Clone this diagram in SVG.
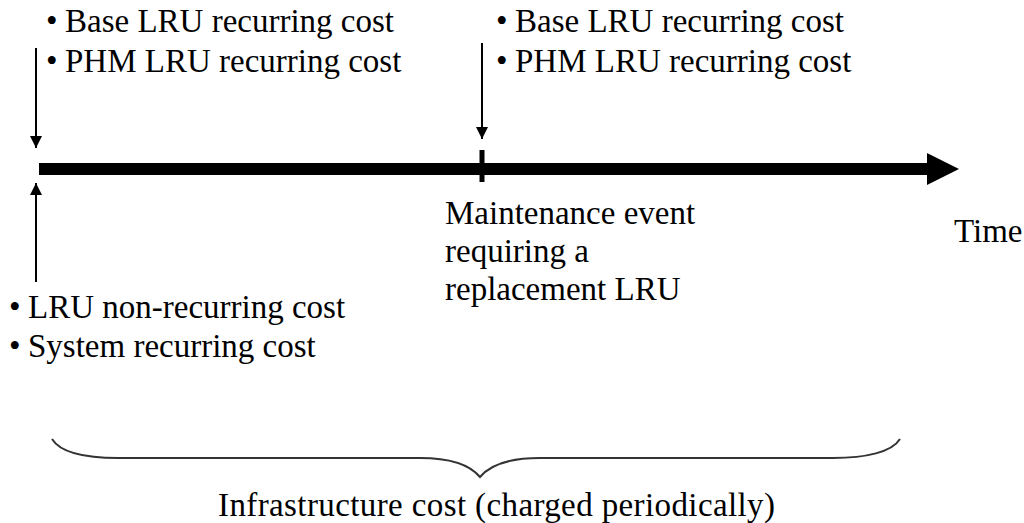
<svg xmlns="http://www.w3.org/2000/svg" width="1024" height="523" viewBox="0 0 1024 523">
<style>
text{font-family:"Liberation Serif","Times New Roman",serif;font-size:33px;fill:#000}
.arr{stroke:#000;stroke-width:2;fill:none}
</style>
<defs>
<marker id="ah" markerUnits="userSpaceOnUse" markerWidth="14" markerHeight="14" refX="12" refY="6" orient="auto">
<path d="M0,0 L12,6 L0,12 Z" fill="#000"/>
</marker>
</defs>
<rect width="1024" height="523" fill="#fff"/>
<g id="timeline">
<line x1="39" y1="169" x2="930" y2="169" stroke="#000" stroke-width="12"/>
<polygon points="927,153 959,169 927,185" fill="#000"/>
<line x1="482" y1="150" x2="482" y2="182" stroke="#000" stroke-width="5"/>
</g>
<g id="connectors">
<line class="arr" x1="36" y1="48" x2="36" y2="148" marker-end="url(#ah)"/>
<line class="arr" x1="482" y1="43" x2="482" y2="139" marker-end="url(#ah)"/>
<line class="arr" x1="36" y1="282" x2="36" y2="183" marker-end="url(#ah)"/>
</g>
<g id="start-top">
<text x="46" y="32">•</text><text x="65" y="32">Base LRU recurring cost</text>
<text x="46" y="72">•</text><text x="65" y="72">PHM LRU recurring cost</text>
</g>
<g id="event-top">
<text x="496" y="32">•</text><text x="515" y="32">Base LRU recurring cost</text>
<text x="496" y="72">•</text><text x="515" y="72">PHM LRU recurring cost</text>
</g>
<g id="start-bottom">
<text x="9" y="318">•</text><text x="28" y="318">LRU non-recurring cost</text>
<text x="9" y="357">•</text><text x="28" y="357">System recurring cost</text>
</g>
<g id="event-label">
<text x="445" y="224">Maintenance event</text>
<text x="445" y="262">requiring a</text>
<text x="445" y="300">replacement LRU</text>
</g>
<g id="time-label">
<text x="954" y="242">Time</text>
</g>
<g id="infrastructure">
<path d="M52,439 C60,452 85,458 118,458 L420,458 C450,458 470,465 480,477 C490,465 510,458 540,458 L833,458 C866,458 892,452 900,439" fill="none" stroke="#333" stroke-width="2"/>
<text x="218" y="516" textLength="557" lengthAdjust="spacing">Infrastructure cost (charged periodically)</text>
</g>
</svg>
